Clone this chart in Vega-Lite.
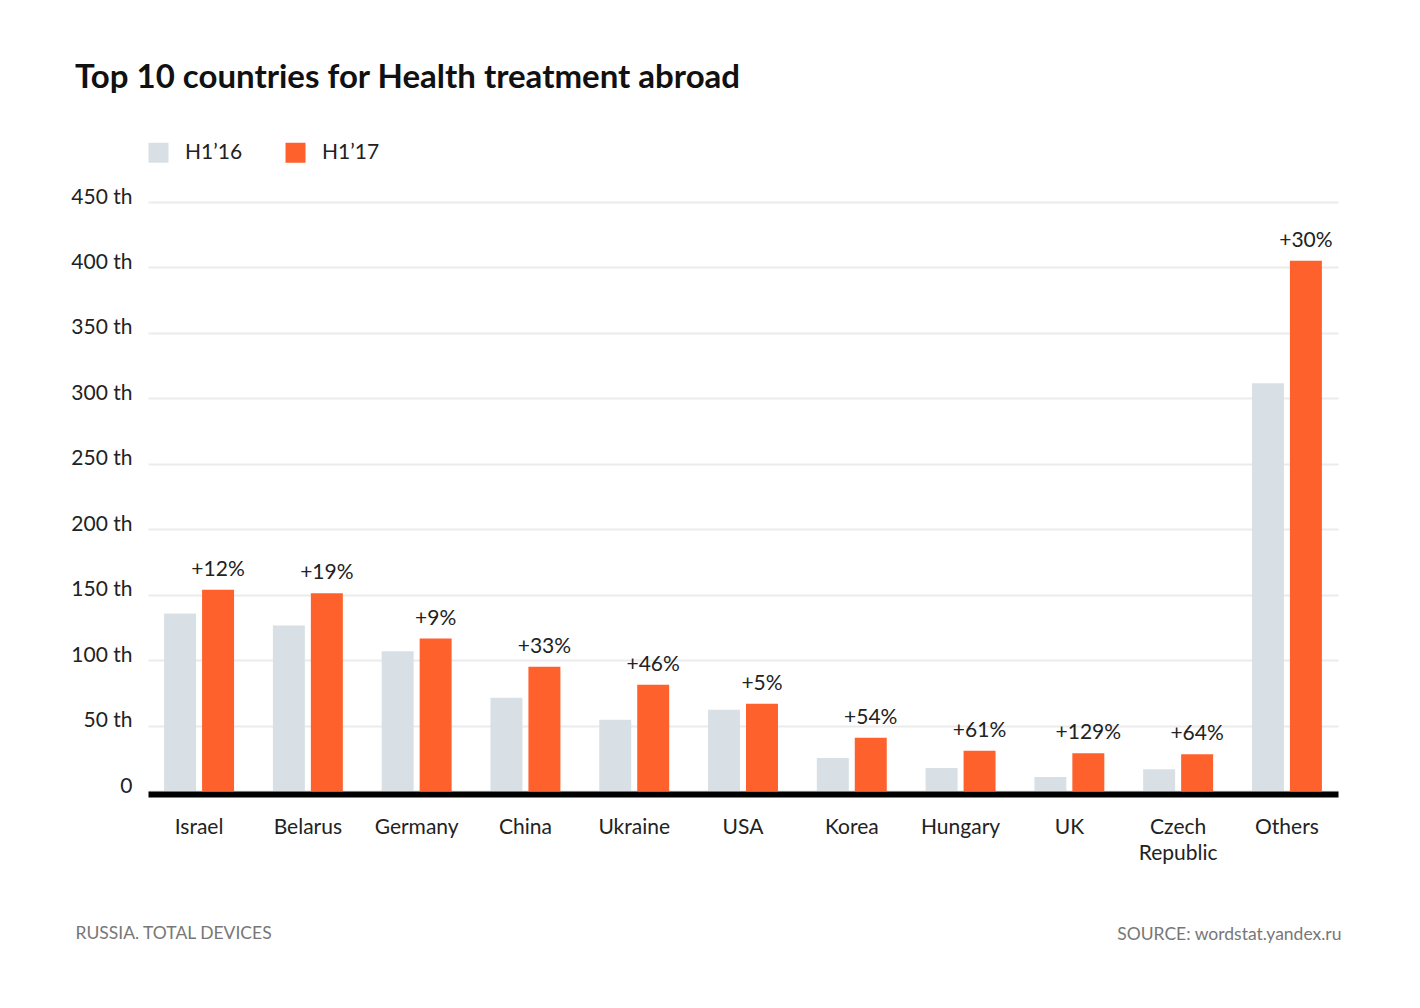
{
  "$schema": "https://vega.github.io/schema/vega-lite/v6.json",
  "width": 1190,
  "height": 589,
  "autosize": {"type": "none"},
  "padding": {"left": 148, "top": 202, "right": 82, "bottom": 217},
  "background": "white",
  "title": {
    "text": "Top 10 countries for Health treatment abroad",
    "anchor": "start",
    "frame": "group",
    "font": "Lato",
    "fontSize": 33,
    "fontWeight": "bold",
    "color": "#111111",
    "dx": -73,
    "dy": -43
  },
  "config": {
    "view": {"stroke": null},
    "font": "Lato",
    "axis": {"labelFont": "Lato", "titleFont": "Lato"},
    "legend": {"labelFont": "Lato"}
  },
  "data": {
    "values": [
      {"country": "Israel", "period": "H1’16", "value": 135.6, "change": ""},
      {"country": "Israel", "period": "H1’17", "value": 153.8, "change": "+12%"},
      {"country": "Belarus", "period": "H1’16", "value": 126.4, "change": ""},
      {"country": "Belarus", "period": "H1’17", "value": 151, "change": "+19%"},
      {"country": "Germany", "period": "H1’16", "value": 106.7, "change": ""},
      {"country": "Germany", "period": "H1’17", "value": 116.5, "change": "+9%"},
      {"country": "China", "period": "H1’16", "value": 71.3, "change": ""},
      {"country": "China", "period": "H1’17", "value": 95, "change": "+33%"},
      {"country": "Ukraine", "period": "H1’16", "value": 54.4, "change": ""},
      {"country": "Ukraine", "period": "H1’17", "value": 81.2, "change": "+46%"},
      {"country": "USA", "period": "H1’16", "value": 62, "change": ""},
      {"country": "USA", "period": "H1’17", "value": 66.7, "change": "+5%"},
      {"country": "Korea", "period": "H1’16", "value": 25.3, "change": ""},
      {"country": "Korea", "period": "H1’17", "value": 40.6, "change": "+54%"},
      {"country": "Hungary", "period": "H1’16", "value": 17.6, "change": ""},
      {"country": "Hungary", "period": "H1’17", "value": 30.7, "change": "+61%"},
      {"country": "UK", "period": "H1’16", "value": 10.7, "change": ""},
      {"country": "UK", "period": "H1’17", "value": 28.9, "change": "+129%"},
      {"country": "Czech Republic", "period": "H1’16", "value": 16.6, "change": ""},
      {"country": "Czech Republic", "period": "H1’17", "value": 28.1, "change": "+64%"},
      {"country": "Others", "period": "H1’16", "value": 311.6, "change": ""},
      {"country": "Others", "period": "H1’17", "value": 405.1, "change": "+30%"}
    ]
  },
  "encoding": {
    "x": {
      "field": "country",
      "type": "nominal",
      "sort": null,
      "scale": {"paddingInner": 0.357, "paddingOuter": 0.148},
      "axis": {
        "title": "SOURCE: wordstat.yandex.ru",
        "titleX": 1193,
        "titleY": 140,
        "titleAlign": "right",
        "titleBaseline": "middle",
        "titleFontSize": 17.5,
        "titleFontWeight": "normal",
        "titleColor": "#777777",
        "labelAngle": 0,
        "labelFontSize": 21,
        "labelColor": "#222222",
        "labelPadding": 22,
        "labelBaseline": "top",
        "labelLineHeight": 26,
        "labelExpr": "datum.label == 'Czech Republic' ? ['Czech', 'Republic'] : datum.label",
        "ticks": false,
        "domain": true,
        "domainColor": "#000000",
        "domainWidth": 6,
        "offset": 3,
        "grid": false
      }
    },
    "xOffset": {
      "field": "period",
      "type": "nominal",
      "scale": {"paddingInner": 0.158, "paddingOuter": 0}
    },
    "y": {
      "field": "value",
      "type": "quantitative",
      "scale": {"domain": [0, 450], "nice": false},
      "axis": {
        "title": "RUSSIA. TOTAL DEVICES",
        "titleAngle": 0,
        "titleX": -73,
        "titleY": 731,
        "titleAlign": "left",
        "titleBaseline": "middle",
        "titleFontSize": 17.5,
        "titleFontWeight": "normal",
        "titleColor": "#777777",
        "values": [0, 50, 100, 150, 200, 250, 300, 350, 400, 450],
        "labelExpr": "datum.value == 0 ? '0' : datum.value + ' th'",
        "labelFontSize": 21,
        "labelColor": "#222222",
        "labelPadding": 16,
        "labelBaseline": "middle",
        "labelOffset": -5,
        "ticks": false,
        "domain": false,
        "grid": true,
        "gridColor": "#ebebeb",
        "gridWidth": 2
      }
    }
  },
  "layer": [
    {
      "mark": {"type": "bar"},
      "encoding": {
        "color": {
          "field": "period",
          "type": "nominal",
          "scale": {"domain": ["H1’16", "H1’17"], "range": ["#d8e0e6", "#ff612c"]},
          "legend": {
            "title": null,
            "orient": "none",
            "legendX": 0,
            "legendY": -60,
            "direction": "horizontal",
            "symbolType": "square",
            "symbolSize": 400,
            "symbolStrokeWidth": 0,
            "symbolOpacity": 1,
            "labelFontSize": 21,
            "labelColor": "#222222",
            "labelOffset": 16,
            "columnPadding": 42
          }
        }
      }
    },
    {
      "transform": [{"filter": "datum.change != ''"}],
      "mark": {"type": "text", "baseline": "alphabetic", "dy": -14, "fontSize": 21, "color": "#222222", "font": "Lato"},
      "encoding": {
        "text": {"field": "change"}
      }
    }
  ]
}
